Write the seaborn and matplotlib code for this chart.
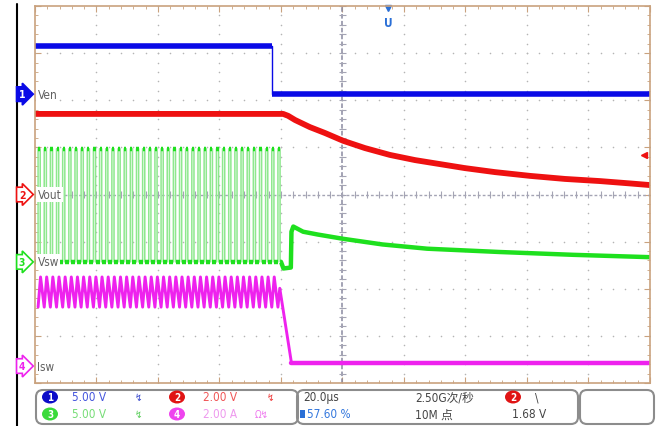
import numpy as np
import pandas as pd
import matplotlib
matplotlib.use("Agg")
import matplotlib.pyplot as plt
import seaborn as sns
from matplotlib.patches import FancyBboxPatch, Ellipse

sns.set_style("white")
plt.rcParams['font.family'] = ['Liberation Sans Narrow', 'DejaVu Sans', 'Noto Sans CJK SC']
plt.rcParams['font.stretch'] = 'condensed'

# channel settings: volts (amps) per division and ground position in divisions
ch_names = ['Ven', 'Vout', 'Vsw', 'Isw']
ch_scale = [5.0, 2.0, 5.0, 2.0]
ch_offset = [2.13, 0.0, -1.43, -3.64]
ch_colors = ['#0a0ae6', '#ee1111', '#1ee01e', '#ee22ee']

# Ven (V) vs time (us)
ven_t = [0, 77.1, 77.1, 200]
ven_v = [5.1, 5.1, 0.0, 0.0]

# Vout (V)
vout_t = [0, 80.7, 82.3, 84.6, 89.4, 94.3, 100.2, 107.3, 115.4, 123.6, 131.7,
          139.8, 149.6, 161.0, 172.4, 183.7, 193.5, 200]
vout_v = [3.42, 3.42, 3.34, 3.16, 2.86, 2.61, 2.28, 1.97, 1.68, 1.46, 1.29,
          1.12, 0.95, 0.79, 0.66, 0.57, 0.47, 0.40]

# Vsw switching pulses (start times, us) and levels (V)
sw_on = [1.0, 3.0, 5.0, 7.0, 9.0, 11.0, 13.0, 15.0, 17.0, 19.0,
         21.0, 23.0, 25.0, 27.0, 29.0, 31.0, 33.0, 35.0, 37.0, 39.0,
         41.0, 43.0, 45.0, 47.0, 49.0, 51.0, 53.0, 55.0, 57.0, 59.0,
         61.0, 63.0, 65.0, 67.0, 69.0, 71.0, 73.0, 75.0, 77.0, 79.0]
sw_width = 0.7
sw_high = 12.0
sw_low = 0.0
vsw_tail_t = [80.0, 80.8, 83.2, 83.4, 84.0, 87.2, 92.0, 100.2, 113.0, 127.5, 151.0, 175.0, 200.0]
vsw_tail_v = [0.0, -0.7, -0.6, 3.2, 3.75, 3.2, 2.9, 2.45, 1.85, 1.4, 1.05, 0.75, 0.5]

# Isw ripple (A)
isw_low = 2.5
isw_high = 3.78
isw_rise = 0.8
isw_tail_t = [79.0, 79.6, 83.4, 200.0]
isw_tail_v = [2.5, 3.3, 0.13, 0.13]

trig_pos = 114.8   # us
trig_level = 1.68  # V on ch2


def level_segments(t):
    seg, k = [], 0
    for i in range(len(t)):
        if i > 0 and t[i] == t[i - 1]:
            k += 1
        seg.append(k)
    return seg


def to_frame(t, v, ch):
    return pd.DataFrame({'t': t,
                         'div': np.array(v) / ch_scale[ch] + ch_offset[ch],
                         'seg': level_segments(t)})


fig = plt.figure(figsize=(6.6, 4.27), dpi=100)

# pixel overlay for frame and status bar
sb = fig.add_axes([0, 0, 1, 1])
sb.set_xlim(0, 660)
sb.set_ylim(427, 0)
sb.axis('off')

ax = fig.add_axes([35 / 660, 1 - 384 / 427, 615 / 660, 377 / 427])
ax.set_xlim(0, 200)
ax.set_ylim(-4, 4)

# graticule
gx, gy = np.meshgrid(np.arange(20, 200, 20), np.arange(-4, 4.01, 0.2))
ax.scatter(gx.ravel(), gy.ravel(), s=1.3, color='#b4b4b4', linewidths=0, zorder=1)
gx, gy = np.meshgrid(np.arange(0, 200.1, 4), np.arange(-3, 4, 1))
ax.scatter(gx.ravel(), gy.ravel(), s=1.3, color='#b4b4b4', linewidths=0, zorder=1)
ax.axhline(0, color='#a4a4b4', lw=1, ls=(0, (2, 1.5)), zorder=1)
ax.axvline(100, color='#8a8aa0', lw=1.1, ls=(0, (3, 1.5)), zorder=1)
ax.vlines(np.arange(0, 200.1, 4), -0.07, 0.07, color='#a4a4b4', lw=0.8, zorder=1)
ax.hlines(np.arange(-4, 4.01, 0.2), 98.8, 101.2, color='#a4a4b4', lw=0.8, zorder=1)

# Ven
df = to_frame(ven_t, ven_v, 0)
sns.lineplot(data=df, x='t', y='div', sort=False, estimator=None, color=ch_colors[0], linewidth=1, ax=ax)
sns.lineplot(data=df, x='t', y='div', units='seg', sort=False, estimator=None,
             color=ch_colors[0], linewidth=4, solid_capstyle='butt', ax=ax)

# Vout
df = to_frame(vout_t, vout_v, 1)
sns.lineplot(data=df, x='t', y='div', sort=False, estimator=None, color=ch_colors[1],
             linewidth=4.2, solid_joinstyle='round', ax=ax)

# Vsw
vsw_t, vsw_v = [0.0], [sw_low]
for ton in sw_on:
    vsw_t += [ton, ton, ton + sw_width, ton + sw_width]
    vsw_v += [sw_low, sw_high, sw_high, sw_low]
vsw_t += vsw_tail_t
vsw_v += vsw_tail_v
df = to_frame(vsw_t, vsw_v, 2)
sns.lineplot(data=df, x='t', y='div', sort=False, estimator=None, color='#8ee88e', linewidth=1.1, ax=ax)
sns.lineplot(data=df, x='t', y='div', units='seg', sort=False, estimator=None,
             color=ch_colors[2], linewidth=3.2, solid_capstyle='butt', ax=ax)

# Isw
isw_t, isw_v = [], []
for ton in sw_on[:-1]:
    isw_t += [ton, ton + isw_rise]
    isw_v += [isw_low, isw_high]
isw_t += isw_tail_t
isw_v += isw_tail_v
df = to_frame(isw_t, isw_v, 3)
sns.lineplot(data=df, x='t', y='div', sort=False, estimator=None, color=ch_colors[3], linewidth=2.1, ax=ax)
sns.lineplot(data=df.tail(2), x='t', y='div', sort=False, estimator=None, color=ch_colors[3], linewidth=3.2, ax=ax)

ax.set_xlabel('')
ax.set_ylabel('')
ax.set_xticks(np.arange(0, 201, 20))
ax.set_xticks(np.arange(0, 201, 4), minor=True)
ax.set_yticks(np.arange(-4, 4.1, 1))
ax.set_yticks(np.arange(-4, 4.01, 0.2), minor=True)
ax.tick_params(which='both', direction='in', top=True, right=True, bottom=True, left=True,
               labelbottom=False, labelleft=False, color='#c9a27e')
ax.tick_params(which='major', length=4)
ax.tick_params(which='minor', length=2.5)
for s in ax.spines.values():
    s.set_color('#c9a27e')
    s.set_linewidth(1.2)

# channel markers
ytr = ax.get_yaxis_transform()
for i, name in enumerate(ch_names):
    filled = i == 0
    ax.text(-0.021, ch_offset[i], str(i + 1), transform=ytr, ha='center', va='center',
            fontsize=7.5, fontweight='bold', color='white' if filled else ch_colors[i],
            bbox=dict(boxstyle='rarrow,pad=0.22', fc=ch_colors[i] if filled else 'white',
                      ec=ch_colors[i], lw=1.2), clip_on=False, zorder=6)
    ax.text(0.004, ch_offset[i], name, transform=ytr, ha='left', va='center',
            fontsize=8.5, color='#606060', zorder=6,
            bbox=dict(boxstyle='square,pad=0.1', fc='white', ec='none'))

# trigger markers
xtr = ax.get_xaxis_transform()
ax.plot([trig_pos], [0.995], marker='v', ms=4, color='#2a6fd6', transform=xtr, clip_on=False)
ax.text(trig_pos, 0.955, 'U', transform=xtr, ha='center', va='center', fontsize=8.5,
        fontweight='bold', color='#2a6fd6')
ax.plot([0.99], [trig_level / ch_scale[1] + ch_offset[1]], marker='<', ms=4,
        color=ch_colors[1], transform=ytr, clip_on=False)

# outer frame line
sb.plot([17, 17], [5, 427], color='black', lw=1.5)

# status bar
for x0, w in [(36, 262), (297, 281), (580, 74)]:
    sb.add_patch(FancyBboxPatch((x0, 391), w, 34, boxstyle='round,pad=0,rounding_size=7',
                                ec='#8c8c8c', fc='none', lw=1.5))

r1, r2 = 398, 415
badge = [(50, r1, '#0c0cc8'), (177, r1, '#e01414'), (50, r2, '#3ada3a'), (177, r2, '#ee44ee')]
for k, (cx, cy, c) in enumerate(badge):
    sb.add_patch(Ellipse((cx, cy), 16, 13, fc=c, ec='none'))
    sb.text(cx, cy + 0.5, str([1, 2, 3, 4][k]), ha='center', va='center', fontsize=7,
            color='white', fontweight='bold')
sb.add_patch(Ellipse((513, r1), 16, 13, fc='#e01414', ec='none'))
sb.text(513, r1 + 0.5, '2', ha='center', va='center', fontsize=7, color='white', fontweight='bold')

fs = 8.5
sb.text(72, r1, '5.00 V', va='center', fontsize=fs, color='#4455dd')
sb.text(72, r2, '5.00 V', va='center', fontsize=fs, color='#77dd77')
sb.text(203, r1, '2.00 V', va='center', fontsize=fs, color='#f05555')
sb.text(203, r2, '2.00 A', va='center', fontsize=fs, color='#ee99ee')
sb.text(138, r1, '↯', va='center', ha='center', fontsize=7, color='#3344cc')
sb.text(138, r2, '↯', va='center', ha='center', fontsize=7, color='#55cc55')
sb.text(270, r1, '↯', va='center', ha='center', fontsize=7, color='#ee3333')
sb.text(262, r2, 'Ω↯', va='center', ha='center', fontsize=7, color='#ee77ee')

sb.text(303, r1, '20.0μs', va='center', fontsize=fs, color='#444444')
sb.add_patch(FancyBboxPatch((300, r2 - 4), 5, 8, boxstyle='square,pad=0', fc='#2a6fd6', ec='none'))
sb.text(307, r2, '57.60 %', va='center', fontsize=fs, color='#3377dd')
sb.text(415, r1, '2.50G次/秒', va='center', fontsize=fs, color='#444444',
        family=['Liberation Sans Narrow', 'DejaVu Sans', 'Noto Sans CJK SC'])
sb.text(415, r2, '10M 点', va='center', fontsize=fs, color='#444444')
sb.text(535, r1, '\\', va='center', fontsize=fs, color='#444444')
sb.text(512, r2, '1.68 V', va='center', fontsize=fs, color='#444444')

fig.savefig('out.png', dpi=100)
